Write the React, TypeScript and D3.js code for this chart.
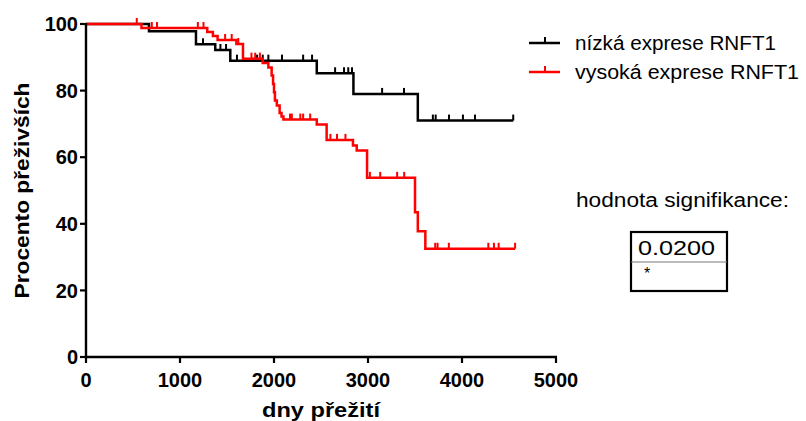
import React from "react";
import * as d3 from "d3";

// ---- data ----
const xTicks = [0, 1000, 2000, 3000, 4000, 5000];
const yTicks = [0, 20, 40, 60, 80, 100];

// low expression (black): step events [day, survival %]
const lowSteps: [number, number][] = [
  [0, 100], [670, 97.8], [1170, 93.9], [1375, 92.2], [1535, 89.0],
  [2455, 85.2], [2845, 79.0], [3530, 71.0],
];
const lowEnd = 4545;
const lowCensor = [1245, 1430, 1490, 1606, 1820, 1880, 1940, 2085, 2310, 2405,
  2650, 2745, 2790, 2830, 3150, 3383, 3690, 3720, 3862, 4010, 4138, 4545];

// high expression (red)
const highSteps: [number, number][] = [
  [0, 100], [590, 98.8], [1290, 97.6], [1350, 96.4], [1400, 95.2], [1600, 94.0],
  [1670, 89.6], [1880, 88.3], [1940, 86.9], [1975, 84.5], [1990, 82.0],
  [2000, 79.5], [2010, 77.0], [2030, 75.5], [2060, 73.3], [2080, 72.2],
  [2100, 71.3], [2455, 69.8], [2560, 65.2], [2840, 63.5], [2880, 62.0],
  [2990, 53.8], [3500, 43.5], [3530, 37.8], [3610, 32.5],
];
const highEnd = 4565;
const highCensor = [540, 700, 755, 1190, 1250, 1480, 1550, 1620, 1760, 1800, 1850,
  2170, 2190, 2280, 2310, 2385, 2600, 2670, 2760, 3020, 3130, 3310, 3385,
  3715, 3740, 3860, 4280, 4340, 4390, 4565];

const seriesNames = ["nízká exprese RNFT1", "vysoká exprese RNFT1"];
const seriesColors = ["#000000", "#ff0000"];
const pValue = "0.0200";
const pStars = "*";

const FONT = "'Liberation Sans', Arial, Helvetica, sans-serif";

function valueAt(steps: [number, number][], day: number) {
  let v = steps[0][1];
  for (const [d, p] of steps) if (d <= day) v = p;
  return v;
}

export default function App() {
  const W = 806, H = 421;
  const x = d3.scaleLinear().domain([0, 5000]).range([86, 556]);
  const y = d3.scaleLinear().domain([0, 100]).range([357, 24]);
  const line = d3.line<[number, number]>().x(d => x(d[0])).y(d => y(d[1])).curve(d3.curveStepAfter);

  const series = [
    { steps: lowSteps, end: lowEnd, censor: lowCensor, color: seriesColors[0] },
    { steps: highSteps, end: highEnd, censor: highCensor, color: seriesColors[1] },
  ];
  const legendLens = [201, 224];

  return (
    <svg width={W} height={H} style={{ position: "absolute", left: 0, top: 0, background: "#fff" }}
      fontFamily={FONT}>
      <rect x={0} y={0} width={W} height={H} fill="#fff" />
      {series.map((s, i) => {
        const pts: [number, number][] = [...s.steps, [s.end, s.steps[s.steps.length - 1][1]]];
        return (
          <g key={i}>
            <path d={line(pts) || ""} fill="none" stroke={s.color} strokeWidth={2.5} />
            {s.censor.map((c, j) => {
              const yy = y(valueAt(s.steps, c));
              return <line key={j} x1={x(c)} x2={x(c)} y1={yy} y2={yy - 6} stroke={s.color} strokeWidth={2} />;
            })}
          </g>
        );
      })}
      {/* axes */}
      <line x1={x(0)} x2={x(0)} y1={y(100) - 1} y2={y(0) + 1} stroke="#000" strokeWidth={2.4} />
      <line x1={x(0) - 1} x2={x(5000) + 1} y1={y(0)} y2={y(0)} stroke="#000" strokeWidth={2.4} />
      {yTicks.map(t => (
        <g key={t}>
          <line x1={x(0) - 6} x2={x(0)} y1={y(t)} y2={y(t)} stroke="#000" strokeWidth={2.2} />
          <text x={x(0) - 8} y={y(t)} dy="0.36em" textAnchor="end" fontWeight="bold" fontSize={20}>{t}</text>
        </g>
      ))}
      {xTicks.map(t => (
        <g key={t}>
          <line x1={x(t)} x2={x(t)} y1={y(0)} y2={y(0) + 6} stroke="#000" strokeWidth={2.2} />
          <text x={x(t)} y={y(0) + 30} textAnchor="middle" fontWeight="bold" fontSize={20}>{t}</text>
        </g>
      ))}
      <text transform={`translate(29,${(y(0) + y(100)) / 2 + 0}) rotate(-90)`} textAnchor="middle"
        fontWeight="bold" fontSize={21} textLength={216} lengthAdjust="spacingAndGlyphs">Procento přeživších</text>
      <text x={321} y={417} textAnchor="middle" fontWeight="bold" fontSize={21}
        textLength={118} lengthAdjust="spacingAndGlyphs">dny přežití</text>

      {/* legend */}
      {seriesNames.map((n, i) => {
        const ly = 43 + i * 29;
        return (
          <g key={n}>
            <line x1={529} x2={560} y1={ly} y2={ly} stroke={seriesColors[i]} strokeWidth={2.5} />
            <line x1={545} x2={545} y1={ly} y2={ly - 6} stroke={seriesColors[i]} strokeWidth={2} />
            <text x={575} y={ly} dy="0.36em" fontSize={20} textLength={legendLens[i]}
              lengthAdjust="spacingAndGlyphs">{n}</text>
          </g>
        );
      })}

      {/* significance */}
      <text x={576} y={207} fontSize={20} textLength={213} lengthAdjust="spacingAndGlyphs">hodnota signifikance:</text>
      <rect x={631} y={232} width={96} height={59} fill="none" stroke="#000" strokeWidth={2.2} />
      <line x1={631} x2={727} y1={262} y2={262} stroke="#777" strokeWidth={1} />
      <text x={638} y={255} fontSize={20} textLength={77} lengthAdjust="spacingAndGlyphs">{pValue}</text>
      <text x={644} y={279} fontSize={16}>{pStars}</text>
    </svg>
  );
}
